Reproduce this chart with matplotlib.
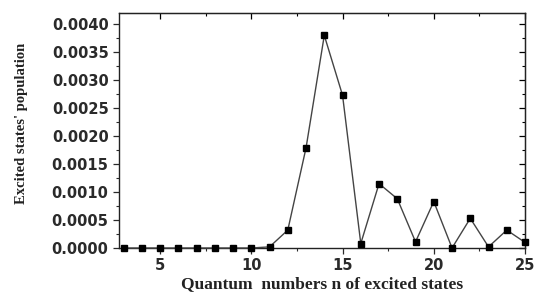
import matplotlib
matplotlib.use("Agg")
import matplotlib.pyplot as plt
from matplotlib.ticker import MultipleLocator, FormatStrFormatter

n_values = list(range(3, 26))
population = [0.0, 0.0, 0.0, 0.0, 0.0, 0.0, 0.0, 0.0,
              0.00002, 0.00032, 0.00179, 0.00380, 0.00273, 0.00008,
              0.00115, 0.00088, 0.00011, 0.00083, 0.0, 0.00053,
              0.00002, 0.00032, 0.00010]
x_ticks = [5, 10, 15, 20, 25]
y_ticks = [0.0000, 0.0005, 0.0010, 0.0015, 0.0020, 0.0025, 0.0030, 0.0035, 0.0040]

fig = plt.figure(figsize=(5.37, 2.93), dpi=100)
ax = fig.add_axes([0.2216, 0.1536, 0.7561, 0.802])

ax.plot(n_values, population, color="#444444", lw=1.0, marker="s",
        markersize=4.4, markerfacecolor="black", markeredgecolor="black",
        clip_on=False, zorder=3)

ax.set_xlim(2.75, 25)
ax.set_ylim(0, 0.0042)
ax.set_xticks(x_ticks)
ax.set_yticks(y_ticks)
ax.xaxis.set_minor_locator(MultipleLocator(2.5))
ax.yaxis.set_minor_locator(MultipleLocator(0.00025))
ax.yaxis.set_major_formatter(FormatStrFormatter("%.4f"))

for s in ax.spines.values():
    s.set_linewidth(1.0)
    s.set_color("#222222")

ax.tick_params(which="major", direction="out", length=4, width=0.9,
               labelsize=10.5, colors="#2a2a2a")
ax.tick_params(which="minor", direction="out", length=2, width=0.8, colors="#2a2a2a")
for lab in ax.get_xticklabels() + ax.get_yticklabels():
    lab.set_fontfamily("DejaVu Sans")
    lab.set_fontweight("bold")

secx = ax.secondary_xaxis("top")
secx.set_xticks(x_ticks)
secx.xaxis.set_minor_locator(MultipleLocator(2.5))
secx.tick_params(which="major", direction="in", length=4, width=0.9, labeltop=False)
secx.tick_params(which="minor", direction="in", length=2, width=0.8)
secy = ax.secondary_yaxis("right")
secy.set_yticks(y_ticks)
secy.yaxis.set_minor_locator(MultipleLocator(0.00025))
secy.tick_params(which="major", direction="in", length=4, width=0.9, labelright=False)
secy.tick_params(which="minor", direction="in", length=2, width=0.8)

ax.set_xlabel("Quantum  numbers n of excited states", family="Liberation Serif",
              fontweight="bold", fontsize=12.5, color="#222222", labelpad=2)
ax.set_ylabel("Excited states' population", family="Liberation Serif",
              fontweight="bold", fontsize=10.5, color="#222222")
ax.yaxis.set_label_coords(-0.224, 0.53)

fig.savefig("out.png", dpi=100)
